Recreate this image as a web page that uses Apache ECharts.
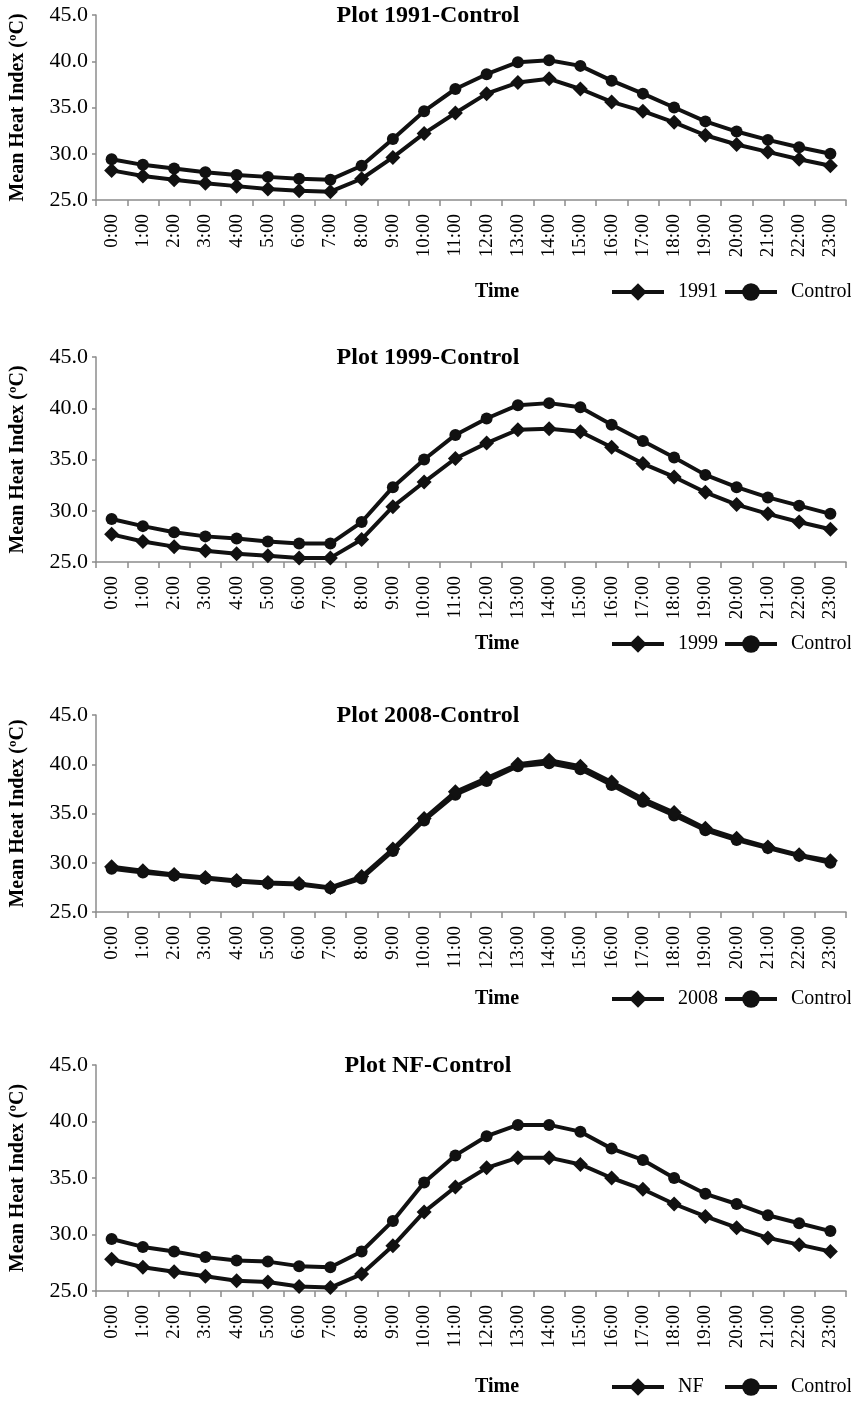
<!DOCTYPE html>
<html>
<head>
<meta charset="utf-8">
<script src="https://cdn.jsdelivr.net/npm/echarts@6/dist/echarts.min.js"></script>
<style>
html,body{margin:0;padding:0;background:#fff;}
#c{width:851px;height:1405px;}
</style>
</head>
<body>
<div id="c"></div>
<script>
var hours = ['0:00','1:00','2:00','3:00','4:00','5:00','6:00','7:00','8:00','9:00','10:00','11:00','12:00','13:00','14:00','15:00','16:00','17:00','18:00','19:00','20:00','21:00','22:00','23:00'];
var yTicks = [25, 30, 35, 40, 45];

var panelTitles = ['Plot 1991-Control', 'Plot 1999-Control', 'Plot 2008-Control', 'Plot NF-Control'];
var plotNames = ['1991', '1999', '2008', 'NF'];
var controlName = 'Control';

var plot1991    = [28.2,27.6,27.2,26.8,26.5,26.2,26.0,25.9,27.3,29.6,32.2,34.4,36.5,37.7,38.1,37.0,35.6,34.6,33.4,32.0,31.0,30.2,29.4,28.7];
var control1991 = [29.4,28.8,28.4,28.0,27.7,27.5,27.3,27.2,28.7,31.6,34.6,37.0,38.6,39.9,40.1,39.5,37.9,36.5,35.0,33.5,32.4,31.5,30.7,30.0];

var plot1999    = [27.7,27.0,26.5,26.1,25.8,25.6,25.4,25.4,27.2,30.4,32.8,35.1,36.6,37.9,38.0,37.7,36.2,34.6,33.3,31.8,30.6,29.7,28.9,28.2];
var control1999 = [29.2,28.5,27.9,27.5,27.3,27.0,26.8,26.8,28.9,32.3,35.0,37.4,39.0,40.3,40.5,40.1,38.4,36.8,35.2,33.5,32.3,31.3,30.5,29.7];

var plot2008    = [29.6,29.2,28.8,28.5,28.2,28.0,27.9,27.5,28.6,31.4,34.5,37.2,38.6,40.0,40.4,39.8,38.2,36.5,35.1,33.5,32.5,31.6,30.8,30.2];
var control2008 = [29.4,29.0,28.7,28.4,28.1,27.9,27.8,27.4,28.4,31.2,34.3,36.9,38.3,39.8,40.1,39.5,37.9,36.2,34.8,33.3,32.3,31.5,30.7,30.0];

var plotNF      = [27.8,27.1,26.7,26.3,25.9,25.8,25.4,25.3,26.5,29.0,32.0,34.2,35.9,36.8,36.8,36.2,35.0,34.0,32.7,31.6,30.6,29.7,29.1,28.5];
var controlNF   = [29.6,28.9,28.5,28.0,27.7,27.6,27.2,27.1,28.5,31.2,34.6,37.0,38.7,39.7,39.7,39.1,37.6,36.6,35.0,33.6,32.7,31.7,31.0,30.3];

var plotSeries = [plot1991, plot1999, plot2008, plotNF];
var controlSeries = [control1991, control1999, control2008, controlNF];

// layout (pixels)
var gridTops = [15, 357, 715, 1065];
var gridHeights = [185, 205, 197, 226];
var bottomRowY = [293, 645, 1000, 1388];

var serif = '"Liberation Serif","Times New Roman",serif';
var axisGray = '#8c8c8c';

var option = {
  backgroundColor: '#fff',
  animation: false,
  title: [], grid: [], xAxis: [], yAxis: [], series: [], legend: []
};

function legendFor(name, left, cy) {
  return {
    data: [name], left: left, top: cy - 11, padding: 0, orient: 'horizontal',
    itemWidth: 52, itemHeight: 22, selectedMode: false,
    lineStyle: {width: 4, color: '#111'},
    itemStyle: {color: '#111'},
    textStyle: {fontFamily: serif, fontSize: 20, color: '#000', padding: [0, 0, 0, 9]}
  };
}

for (var i = 0; i < 4; i++) {
  option.grid.push({left: 93, right: 5, top: gridTops[i], height: gridHeights[i], containLabel: false});
  option.title.push({
    text: panelTitles[i], left: 428, textAlign: 'center', top: gridTops[i] - 11, padding: 0,
    textStyle: {fontFamily: serif, fontWeight: 'bold', fontSize: 24, color: '#000'}
  });
  option.title.push({
    text: 'Time', left: 497, textAlign: 'center', top: bottomRowY[i] - 11, padding: 0,
    textStyle: {fontFamily: serif, fontWeight: 'bold', fontSize: 20, color: '#000'}
  });
  option.xAxis.push({
    type: 'category', gridIndex: i, data: hours, boundaryGap: true,
    axisLine: {lineStyle: {color: axisGray, width: 1.5}},
    axisTick: {show: true, length: 6, lineStyle: {color: axisGray, width: 1.5}},
    axisLabel: {rotate: 90, interval: 0, margin: 14, fontFamily: serif, fontSize: 19, color: '#000'},
    splitLine: {show: false}
  });
  option.yAxis.push({
    type: 'value', gridIndex: i, min: yTicks[0], max: yTicks[yTicks.length - 1], interval: 5,
    name: 'Mean Heat Index (ºC)', nameLocation: 'middle', nameGap: 68,
    nameTextStyle: {fontFamily: serif, fontWeight: 'bold', fontSize: 20, color: '#000'},
    axisLine: {show: true, lineStyle: {color: axisGray, width: 1.5}},
    axisTick: {show: true, length: 4, lineStyle: {color: axisGray, width: 1.5}},
    axisLabel: {margin: 8, fontFamily: serif, fontSize: 22, color: '#000',
      formatter: function (v) { return v.toFixed(1); }},
    splitLine: {show: false}
  });
  option.series.push({
    name: plotNames[i], type: 'line', xAxisIndex: i, yAxisIndex: i, data: plotSeries[i],
    symbol: 'diamond', symbolSize: 15, showAllSymbol: true,
    lineStyle: {color: '#111', width: 4}, itemStyle: {color: '#111'}, z: 3
  });
  option.series.push({
    name: controlName, type: 'line', xAxisIndex: i, yAxisIndex: i, data: controlSeries[i],
    symbol: 'circle', symbolSize: 12, showAllSymbol: true,
    lineStyle: {color: '#111', width: 4}, itemStyle: {color: '#111'}, z: 2
  });
  option.legend.push(legendFor(plotNames[i], 610, bottomRowY[i]));
  option.legend.push(legendFor(controlName, 723, bottomRowY[i]));
}

var chart = echarts.init(document.getElementById('c'), null, {renderer: 'canvas'});
chart.setOption(option);
</script>
</body>
</html>
